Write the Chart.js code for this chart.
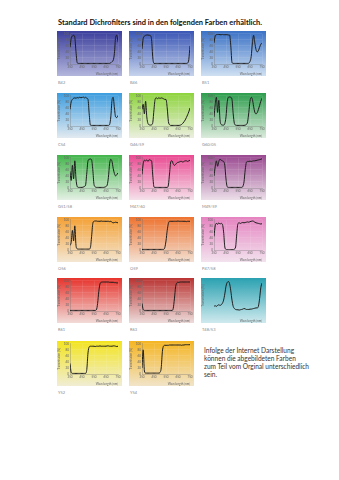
<!DOCTYPE html>
<html>
<head>
<meta charset="utf-8">
<script src="https://cdn.jsdelivr.net/npm/chart.js@4.4.1/dist/chart.umd.min.js"></script>
<style>
  body { margin: 0; background: #fff; width: 339px; height: 480px; position: relative; overflow: hidden; font-family: Lato, "Open Sans", sans-serif; }
  #title { position: absolute; left: 58px; top: 17px; font-weight: bold; font-size: 8px; line-height: 10px; white-space: nowrap; color: #111; transform-origin: 0 0; }
  .panel { position: absolute; width: 65px; height: 45px; }
  .name { position: absolute; font-size: 4px; line-height: 5px; color: #888; white-space: nowrap; }
  #note { position: absolute; left: 204px; top: 346px; font-size: 7px; line-height: 8px; color: #333; white-space: nowrap; transform-origin: 0 0; }
</style>
</head>
<body>
<div id="title">Standard Dichrofilters sind in den folgenden Farben erhältlich.</div>
<div id="note">Infolge der Internet Darstellung<br>können die abgebildeten Farben<br>zum Teil vom Orginal unterschiedlich<br>sein.</div>
<script>
// wavelength grid, nm
const wavelengths = [350,360,370,380,390,400,410,420,430,440,450,460,470,480,490,500,510,520,530,540,
                     550,560,570,580,590,600,610,620,630,640,650,660,670,680,690,700,710,720,730,740,750];
const xTicks = [350, 450, 550, 650, 750];
const yTicks = [0, 20, 40, 60, 80, 100];

const filterNames = ['B42','B46','B51','C54','G46/59','G60/05','G51/58','M47/60','M49/59',
                     'O56','O59','P47/58','R61','R63','T48/53','Y52','Y54'];

// transmission in %, one value per wavelength
const B42 = [55,85,93,95,88,40,4,2,2,2, 2,2,2,2,2,2,2,2,2,2, 2,2,2,2,2,2,2,2,2,2, 2,2,2,2,4,8,12,35,88,95, 72];
const B46 = [50,85,92,95,96,96,95,94,80,20, 2,2,2,2,2,2,2,2,2,2, 2,2,2,2,2,2,2,2,2,2, 2,2,2,2,2,2,2,2,3,15, 60];
const B51 = [70,93,97,98,98,97,97,98,97,97, 97,97,96,96,60,5,2,2,2,2, 2,2,2,2,2,2,2,2,2,3, 8,25,70,95,70,48,40,44,55,65, 70];
const C54 = [55,80,88,92,93,92,94,93,95,94, 94,96,93,95,92,88,40,3,2,2, 2,2,2,2,2,2,2,2,2,2, 2,2,2,5,30,85,95,60,30,28, 35];
const G46_59 = [55,72,40,82,30,8,4,3,4,12, 55,90,93,90,94,91,93,92,90,88, 88,60,15,4,2,2,2,2,2,2, 2,2,3,5,9,14,20,28,37,47, 60];
const G60_05 = [30,70,95,45,85,20,5,3,3,8, 30,80,95,96,95,88,40,8,3,2, 2,2,2,2,2,2,3,5,14,45, 82,95,88,65,46,40,44,55,68,82, 92];
const G51_58 = [55,25,75,30,90,30,5,2,2,2, 2,3,5,10,50,90,95,96,93,60, 12,4,2,2,2,2,2,2,2,3, 5,10,35,80,95,88,65,48,40,44, 50];
const M47_60 = [45,80,92,90,93,88,94,92,90,40, 3,2,2,2,2,2,2,2,2,2, 2,2,10,50,88,90,80,75,78,83, 85,86,88,88,86,88,90,90,88,90, 92];
const M49_59 = [40,70,90,72,88,95,92,90,88,75, 30,4,2,2,2,2,2,2,2,2, 2,2,2,2,5,20,60,85,88,88, 89,88,89,90,90,91,92,93,94,95, 97];
const O56 = [15,25,65,30,80,15,4,3,3,3, 3,3,3,3,3,3,3,8,45,88, 95,96,96,95,95,95,96,95,95,95, 95,95,95,94,95,92,90,91,92,91, 90];
const O59 = [2,2,2,2,2,2,2,2,2,2, 2,2,2,2,2,2,2,2,2,8, 30,65,88,95,95,95,95,95,95,95, 96,95,95,95,95,95,95,94,95,95, 95];
const P47_58 = [45,80,88,85,90,86,88,85,60,10, 2,1,1,1,1,1,1,3,10,55, 88,90,88,90,91,90,91,92,93,92, 94,95,96,95,92,90,89,88,87,86, 87];
const R61 = [2,2,2,2,2,2,2,2,2,2, 2,2,2,2,2,2,2,2,2,2, 2,2,4,25,65,90,95,96,96,96, 96,96,96,95,95,95,95,94,94,93, 93];
const R63 = [25,5,2,2,2,2,2,2,2,2, 2,2,2,2,2,2,2,2,2,2, 2,2,2,2,2,2,8,40,80,93, 95,95,96,96,96,96,96,96,96,96, 96];
const T48_53 = [15,17,15,18,20,18,20,25,35,55, 80,92,95,88,65,35,15,8,5,4, 4,3,4,5,6,8,7,5,5,5, 6,6,7,8,9,10,10,15,40,75, 90];
const Y52 = [35,5,2,2,2,2,2,2,2,2, 2,2,2,2,15,70,90,92,92,92, 92,91,92,92,92,93,92,92,92,92, 92,93,93,92,92,92,93,93,92,91, 92];
const Y54 = [20,80,10,3,3,3,3,3,3,3, 3,3,3,3,3,5,20,75,93,95, 95,95,95,96,96,96,96,96,96,96, 96,96,96,95,96,96,97,97,97,97, 97];

const allSeries = [B42, B46, B51, C54, G46_59, G60_05, G51_58, M47_60, M49_59,
                   O56, O59, P47_58, R61, R63, T48_53, Y52, Y54];

// panel backgrounds: top colour -> bottom colour
const topColors = ['#3c3f9c','#3a56b5','#3b72c6','#3d9ddf','#8ed43e','#2e9d4d','#43b54c','#ea4a92','#9a4990',
                   '#f4a033','#ee7330','#e583c0','#e7332c','#b93331','#2ba1b1','#f3e41f','#f5b522'];
const bottomColors = ['#b3b6dc','#c6d3ec','#cfe0f2','#e2eaf0','#ecefdf','#dcebdd','#e4f0e4','#f5e1ea','#ecdfe9',
                      '#f3e6d2','#f3e0d2','#f3e2ee','#f1dbd8','#eddcdb','#cfeaee','#f0edd4','#f1e4c8'];

const colLeft = [57, 129, 201];
const rowTop = [31, 93, 155, 217, 278, 341];

const gradientBg = {
  id: 'gradientBg',
  beforeDraw(chart, args, opts) {
    const { ctx, width, height } = chart;
    const g = ctx.createLinearGradient(0, 0, 0, height);
    g.addColorStop(0, opts.top);
    g.addColorStop(1, opts.bottom);
    ctx.save();
    ctx.fillStyle = g;
    ctx.fillRect(0, 0, width, height);
    ctx.restore();
  }
};

function makePanel(i) {
  const left = colLeft[i % 3];
  const top = rowTop[Math.floor(i / 3)];
  const bare = filterNames[i] === 'T48/53'; // this one has no ticks or grid

  const canvas = document.createElement('canvas');
  canvas.className = 'panel';
  canvas.width = 65;
  canvas.height = 45;
  canvas.style.left = left + 'px';
  canvas.style.top = top + 'px';
  document.body.appendChild(canvas);

  const name = document.createElement('div');
  name.className = 'name';
  name.textContent = filterNames[i];
  name.style.left = (left + 1) + 'px';
  name.style.top = (top + 49) + 'px';
  document.body.appendChild(name);

  const pts = wavelengths.map((w, k) => ({ x: w, y: allSeries[i][k] }));
  const small = { size: 3, family: 'Lato' };

  new Chart(canvas, {
    type: 'line',
    data: {
      datasets: [{
        data: pts,
        borderColor: '#1e1e1e',
        borderWidth: 1,
        pointRadius: 0,
        cubicInterpolationMode: 'monotone'
      }]
    },
    options: {
      responsive: false,
      animation: false,
      devicePixelRatio: 1,
      layout: { padding: { top: 2, right: 4, left: 0, bottom: 0 } },
      plugins: {
        legend: { display: false },
        tooltip: { enabled: false },
        gradientBg: { top: topColors[i], bottom: bottomColors[i] }
      },
      scales: {
        x: {
          type: 'linear', min: 350, max: 750,
          afterBuildTicks: s => { s.ticks = xTicks.map(v => ({ value: v })); },
          ticks: { display: !bare, font: small, color: '#666', padding: 1, maxRotation: 0, autoSkip: false },
          grid: { display: !bare, color: 'rgba(255,255,255,0.18)', lineWidth: 0.5, drawTicks: false },
          border: { display: !bare, color: 'rgba(90,90,90,0.6)', width: 0.5 },
          title: { display: true, text: 'Wavelength [nm]', align: 'end', font: small, color: '#666', padding: 0 },
          afterFit: s => { s.height = 12; }
        },
        y: {
          min: 0, max: 100,
          afterBuildTicks: s => { s.ticks = yTicks.map(v => ({ value: v })); },
          ticks: { display: !bare, font: small, color: '#666', padding: 1, autoSkip: false },
          grid: { display: !bare, color: 'rgba(255,255,255,0.18)', lineWidth: 0.5, drawTicks: false },
          border: { display: !bare, color: 'rgba(90,90,90,0.6)', width: 0.5 },
          title: { display: true, text: 'Transmission [%]', font: small, color: '#666', padding: 0 },
          afterFit: s => { s.width = 13; }
        }
      }
    },
    plugins: [gradientBg]
  });
}

for (let i = 0; i < filterNames.length; i++) makePanel(i);

// fit the two text blocks to the widths seen in the reference
function fitWidth(id, target) {
  const el = document.getElementById(id);
  const w = el.getBoundingClientRect().width;
  el.style.transform = 'scaleX(' + (target / w) + ')';
}
fitWidth('title', 204);
fitWidth('note', 105);
</script>
</body>
</html>
